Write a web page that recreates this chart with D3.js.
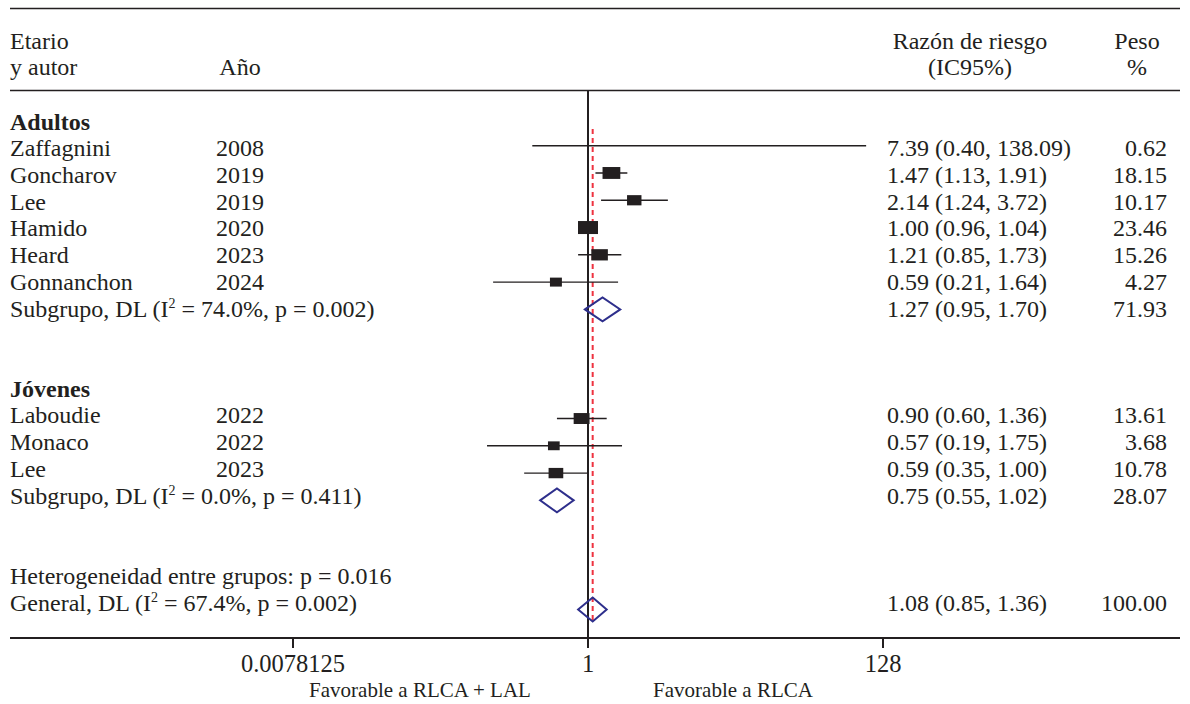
<!DOCTYPE html>
<html>
<head>
<meta charset="utf-8">
<script src="https://cdn.jsdelivr.net/npm/d3@7"></script>
<style>
  body { margin: 0; background: #fff; }
  text { font-family: "Liberation Serif", "Times New Roman", serif; fill: #231f20; }
</style>
</head>
<body>
<div class="forest"></div>
<script>
// studies
var authors = ["Zaffagnini", "Goncharov", "Lee", "Hamido", "Heard", "Gonnanchon", "Laboudie", "Monaco", "Lee"];
var years   = ["2008", "2019", "2019", "2020", "2023", "2024", "2022", "2022", "2023"];
var studyRow = [1, 2, 3, 4, 5, 6, 11, 12, 13];
var rr  = [7.39, 1.47, 2.14, 1.00, 1.21, 0.59, 0.90, 0.57, 0.59];
var lo  = [0.40, 1.13, 1.24, 0.96, 0.85, 0.21, 0.60, 0.19, 0.35];
var hi  = [138.09, 1.91, 3.72, 1.04, 1.73, 1.64, 1.36, 1.75, 1.00];
var weight = [0.62, 18.15, 10.17, 23.46, 15.26, 4.27, 13.61, 3.68, 10.78];

// pooled rows (subgroups + overall)
var poolName = ["Subgrupo, DL", "Subgrupo, DL", "General, DL"];
var poolI2 = ["74.0%", "0.0%", "67.4%"];
var poolP = ["0.002", "0.411", "0.002"];
var poolRow = [7, 14, 18];
var poolText = ["1.27 (0.95, 1.70)", "0.75 (0.55, 1.02)", "1.08 (0.85, 1.36)"];
var poolWeight = ["71.93", "28.07", "100.00"];
// diamonds as drawn in the picture
var poolEst = [1.27, 0.60, 1.08];
var poolLo  = [0.95, 0.455, 0.85];
var poolHi  = [1.70, 0.79, 1.36];

var groups = ["Adultos", "Jóvenes"];
var groupRow = [0, 10];
var hetText = "Heterogeneidad entre grupos: p = 0.016";
var hetRow = 17;

var tickValues = [0.0078125, 1, 128];
var tickLabels = ["0.0078125", "1", "128"];
var overall = 1.08;
var ciMax = 97; // right edge where long CIs are cut

var W = 1190, H = 704;
var fs = 24;

var svg = d3.select(".forest").append("svg")
    .attr("width", W).attr("height", H);

var x = d3.scaleLog().base(2).domain([0.0078125, 128]).range([293, 883]);
// text rows and marker rows sit on slightly different grids
var yText = d3.scaleLinear().domain([0, 18]).range([122, 603]);
var y = d3.scaleLinear().domain([0, 18]).range([118.4, 609.5]);
var boxW = d3.scaleLinear().domain([0.62, 2, 23.46]).range([0, 11, 20]);
var boxH = d3.scaleLinear().domain([0.62, 2, 23.46]).range([0, 8.5, 13]);

var ink = "#231f20";
var axisY = 638;

// rules
svg.append("line").attr("x1", 10).attr("x2", 1180).attr("y1", 8.5).attr("y2", 8.5)
    .attr("stroke", ink).attr("stroke-width", 1.5);
svg.append("line").attr("x1", 10).attr("x2", 1180).attr("y1", 90.5).attr("y2", 90.5)
    .attr("stroke", ink).attr("stroke-width", 1.5);

function txt(xp, yp, s, anchor) {
    return svg.append("text").attr("x", xp).attr("y", yp)
        .attr("text-anchor", anchor || "start").style("font-size", fs + "px").text(s);
}

// header
txt(10, 49, "Etario");
txt(10, 75, "y autor");
txt(240, 75, "Año", "middle");
txt(970, 49, "Razón de riesgo", "middle");
txt(970, 75, "(IC95%)", "middle");
txt(1137, 49, "Peso", "middle");
txt(1137, 75, "%", "middle");

var base = 7.5;

// group titles
groups.forEach(function(g, i) {
    txt(10, yText(groupRow[i]) + base, g).style("font-weight", "bold");
});

// reference lines
svg.append("line").attr("x1", x(1)).attr("x2", x(1)).attr("y1", 90).attr("y2", axisY)
    .attr("stroke", ink).attr("stroke-width", 2);
svg.append("line").attr("x1", x(overall)).attr("x2", x(overall)).attr("y1", 129).attr("y2", 623)
    .attr("stroke", "#ee3340").attr("stroke-width", 2).attr("stroke-dasharray", "5,4");

// studies
authors.forEach(function(a, i) {
    var ty = yText(studyRow[i]) + base;
    txt(10, ty, a);
    txt(240, ty, years[i], "middle");
    txt(887, ty, rr[i].toFixed(2) + " (" + lo[i].toFixed(2) + ", " + hi[i].toFixed(2) + ")");
    txt(1167, ty, weight[i].toFixed(2), "end");

    var cy = y(studyRow[i]);
    svg.append("line")
        .attr("x1", x(lo[i])).attr("x2", x(Math.min(hi[i], ciMax)))
        .attr("y1", cy).attr("y2", cy)
        .attr("stroke", ink).attr("stroke-width", 1.4);
    var w = boxW(weight[i]), h = boxH(weight[i]);
    svg.append("rect")
        .attr("x", x(rr[i]) - w / 2).attr("y", cy - h / 2)
        .attr("width", w).attr("height", h)
        .attr("fill", ink);
});

// pooled
poolName.forEach(function(n, i) {
    var ty = yText(poolRow[i]) + base;
    var t = txt(10, ty, n + " (I");
    t.append("tspan").attr("dy", -9).style("font-size", "14px").text("2");
    t.append("tspan").attr("dy", 9).text(" = " + poolI2[i] + ", p = " + poolP[i] + ")");
    txt(887, ty, poolText[i]);
    txt(1167, ty, poolWeight[i], "end");

    var cy = y(poolRow[i]), hh = 12;
    var pts = [[x(poolLo[i]), cy], [x(poolEst[i]), cy - hh], [x(poolHi[i]), cy], [x(poolEst[i]), cy + hh]];
    svg.append("path")
        .attr("d", d3.line()(pts) + "Z")
        .attr("fill", "none").attr("stroke", "#2e2f8c").attr("stroke-width", 2);
});

txt(10, yText(hetRow) + base, hetText);

// x axis
svg.append("line").attr("x1", 10).attr("x2", 1180).attr("y1", axisY).attr("y2", axisY)
    .attr("stroke", ink).attr("stroke-width", 2);
tickValues.forEach(function(v, i) {
    svg.append("line").attr("x1", x(v)).attr("x2", x(v)).attr("y1", axisY).attr("y2", axisY + 10)
        .attr("stroke", ink).attr("stroke-width", 2);
    txt(x(v), 672, tickLabels[i], "middle").style("font-size", "24.5px");
});
txt(420, 697, "Favorable a RLCA + LAL", "middle").style("font-size", "21px");
txt(733, 697, "Favorable a RLCA", "middle").style("font-size", "21px");
</script>
</body>
</html>
